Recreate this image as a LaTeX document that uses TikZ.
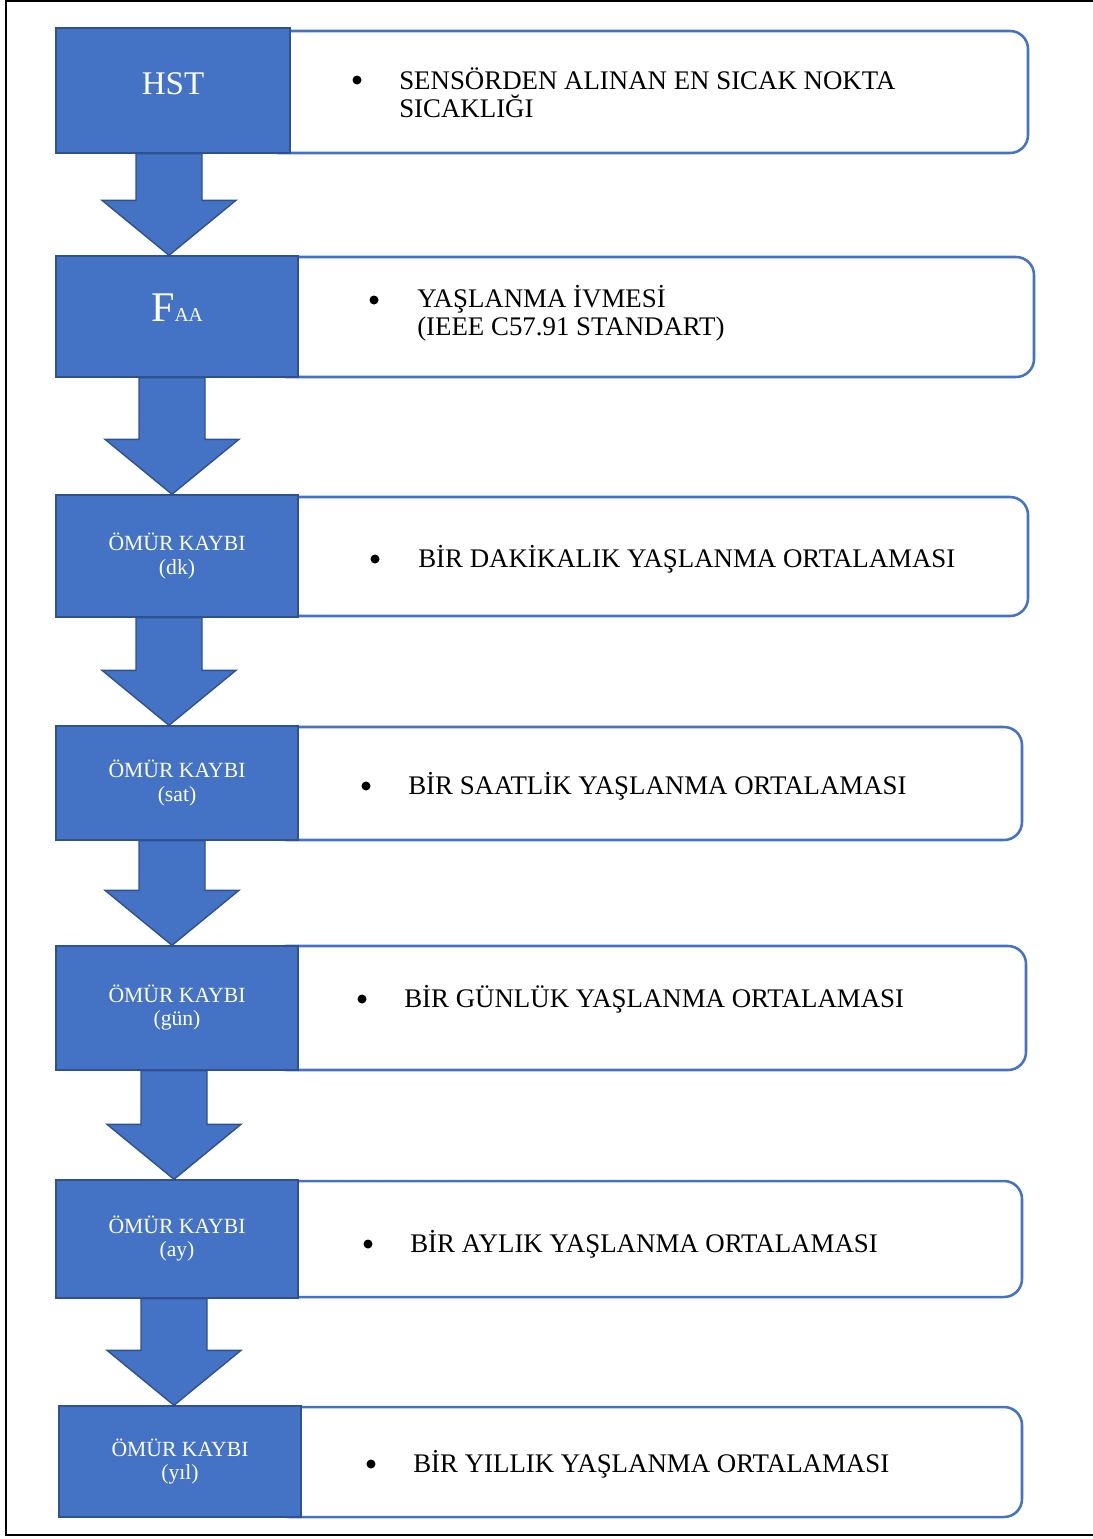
\documentclass[tikz,border=0pt]{standalone}
\usepackage{fontspec}
\setmainfont{Liberation Serif}
\usepackage{xcolor}
\usepackage{tikz}

\definecolor{boxblue}{HTML}{4472C4}
\definecolor{edgeblue}{HTML}{2F528F}
\newlength\pix
\setlength\pix{0.025cm}

\begin{document}
\begin{tikzpicture}[x=0.025cm,y=-0.025cm,
  stage/.style={draw=edgeblue,line width=1pt,fill=boxblue,text=white,
                align=center,inner sep=0pt,minimum width=242*\pix,
                font=\fontsize{15.4}{16.4}\selectfont},
  panel/.style={draw=boxblue,line width=1.8pt,fill=white,rounded corners=0.45cm,
                inner sep=0pt},
  blockarr/.style={draw=edgeblue,line width=1pt,fill=boxblue,line join=miter},
  dot/.style={circle,fill=black,inner sep=0pt,minimum size=9*\pix},
  item/.style={anchor=west,align=left,inner sep=0pt,
               font=\fontsize{19.1}{19.9}\selectfont}]

  \useasboundingbox (0,0) rectangle (1092,1539);
  \draw[line width=1.4pt] (1100,1) -- (6,1) -- (6,1535) -- (1100,1535);

  % right-hand panels (left ends hide under the blue boxes)
  \node[panel,minimum width=768*\pix,minimum height=122*\pix] (p1) at (644,92) {};
  \node[panel,minimum width=766*\pix,minimum height=120*\pix] (p2) at (651,317) {};
  \node[panel,minimum width=758*\pix,minimum height=119*\pix] (p3) at (649,556.5) {};
  \node[panel,minimum width=754*\pix,minimum height=113*\pix] (p4) at (645,783.5) {};
  \node[panel,minimum width=758*\pix,minimum height=124*\pix] (p5) at (647,1008) {};
  \node[panel,minimum width=754*\pix,minimum height=116*\pix] (p6) at (645,1239) {};
  \node[panel,minimum width=751*\pix,minimum height=110*\pix] (p7) at (646.5,1462) {};

  \node[stage,minimum width=234*\pix,minimum height=125*\pix,text depth=14*\pix,
        font=\fontsize{23.5}{26}\selectfont] (hst) at (173,90.5) {HST};
  \node[stage,minimum height=121*\pix,text depth=18*\pix,
        font=\fontsize{30}{30}\selectfont] (faa) at (177,316.5)
    {F{\fontsize{14}{14}\selectfont AA}};
  \node[stage,minimum height=122*\pix] (dk)  at (177,556)    {ÖMÜR KAYBI\\(dk)};
  \node[stage,minimum height=114*\pix] (sat) at (177,783)    {ÖMÜR KAYBI\\(sat)};
  \node[stage,minimum height=124*\pix] (gun) at (177,1008)   {ÖMÜR KAYBI\\(gün)};
  \node[stage,minimum height=118*\pix] (ay)  at (177,1239)   {ÖMÜR KAYBI\\(ay)};
  \node[stage,minimum height=111*\pix] (yil) at (180,1461.5) {ÖMÜR KAYBI\\(yıl)};

  \foreach \a/\b/\dx in {hst/faa/-8,faa/dk/-5,dk/sat/-8,sat/gun/-5,gun/ay/-3,ay/yil/-6}{
    \coordinate (tip) at ([xshift=\dx*\pix]\b.north);
    \coordinate (tail) at (tip |- \a.south);
    \draw[blockarr] (tip) -- ++(-67,-55) -- ++(34,0) -- ([xshift=-33*\pix]tail)
      -- ([xshift=33*\pix]tail) -- ([xshift=33*\pix,yshift=55*\pix]tip) -- ++(34,0) -- cycle;
  }

  \node[dot] (b1) at (357,80)   {};
  \node[item] (t1) at (399,93)   {SENSÖRDEN ALINAN EN SICAK NOKTA\\SICAKLIĞI};
  \node[dot] (b2) at (374,300)  {};
  \node[item] (t2) at (417,313)  {YAŞLANMA İVMESİ\\(IEEE C57.91 STANDART)};
  \node[dot] (b3) at (375,559)  {};
  \node[item] (t3) at (418,559)  {BİR DAKİKALIK YAŞLANMA ORTALAMASI};
  \node[dot] (b4) at (366,786)  {};
  \node[item] (t4) at (408,786)  {BİR SAATLİK YAŞLANMA ORTALAMASI};
  \node[dot] (b5) at (362,999)  {};
  \node[item] (t5) at (404,999)  {BİR GÜNLÜK YAŞLANMA ORTALAMASI};
  \node[dot] (b6) at (368,1244) {};
  \node[item] (t6) at (410,1244) {BİR AYLIK YAŞLANMA ORTALAMASI};
  \node[dot] (b7) at (371,1464) {};
  \node[item] (t7) at (413,1464) {BİR YILLIK YAŞLANMA ORTALAMASI};

\end{tikzpicture}
\end{document}
